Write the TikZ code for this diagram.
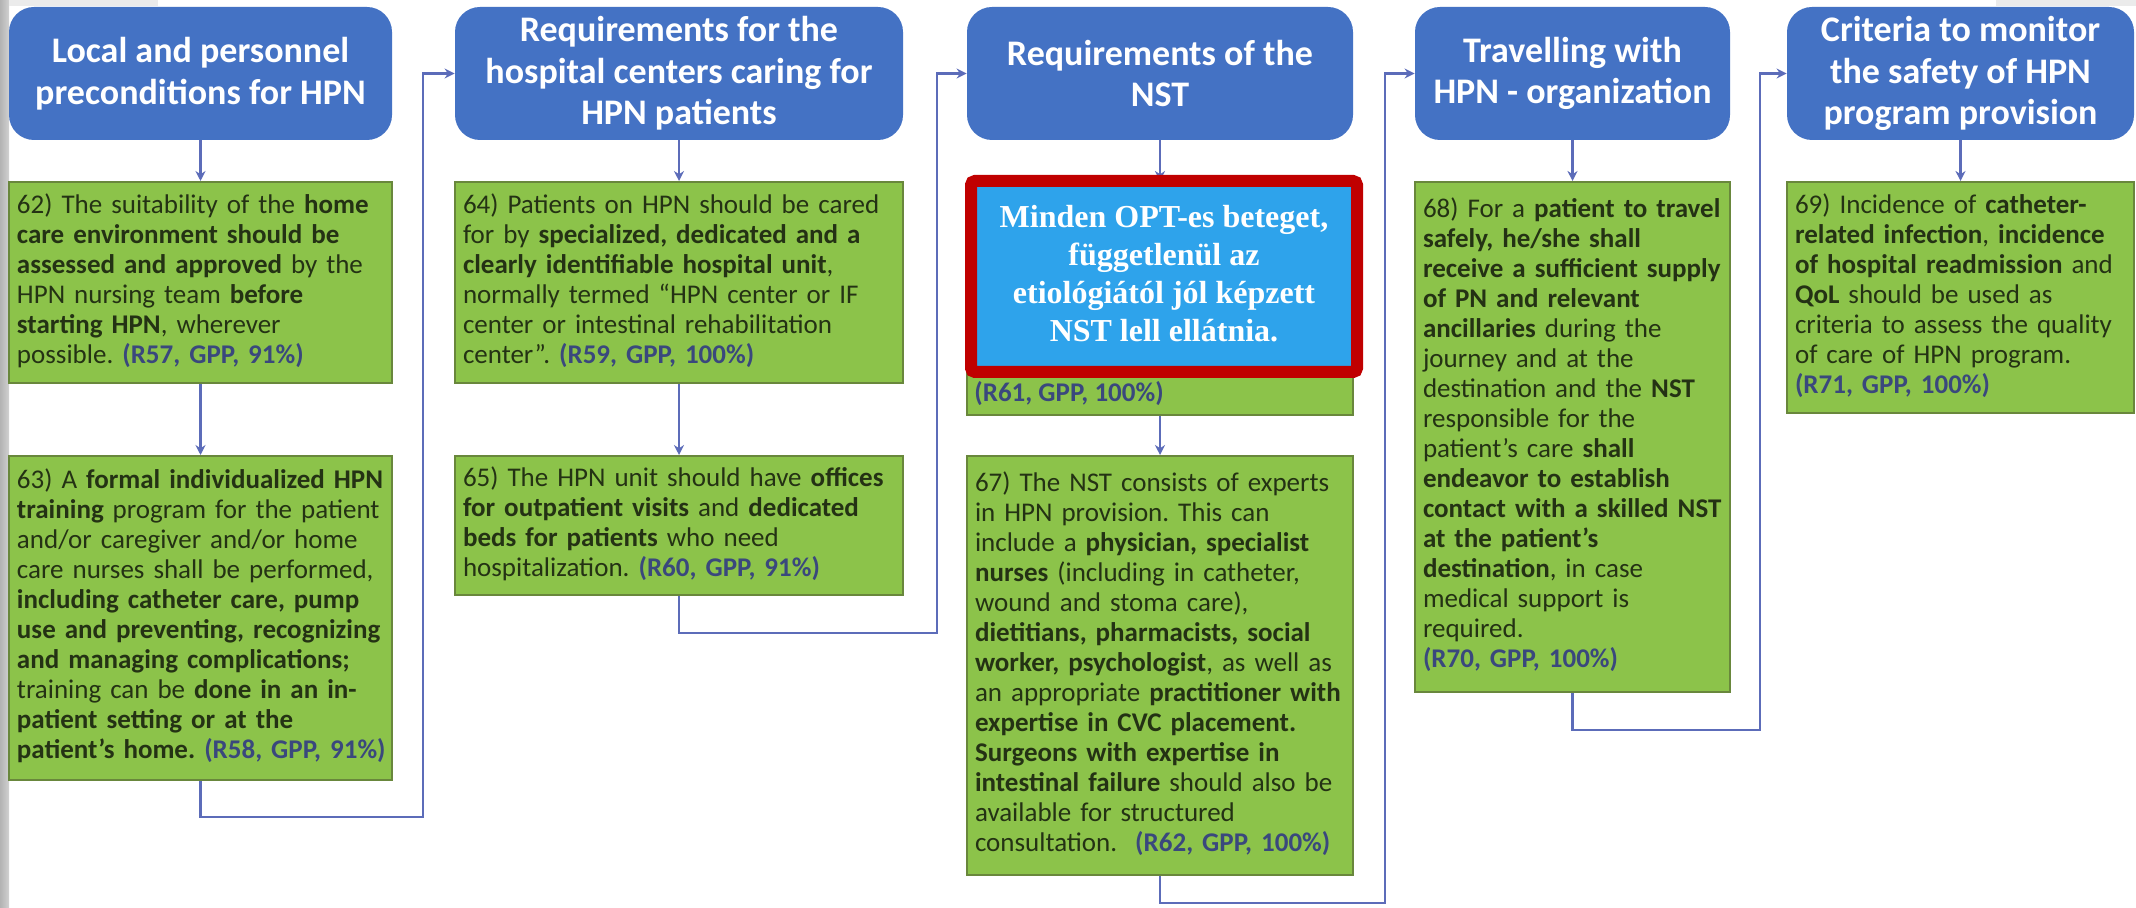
\documentclass[tikz,border=0pt]{standalone}
\usepackage{fontspec}
\setmainfont{Carlito}
\newfontfamily\timesfont{Liberation Serif}
\usetikzlibrary{arrows.meta}
\definecolor{hdrblue}{RGB}{68,114,196}
\definecolor{boxgreen}{RGB}{140,195,74}
\definecolor{boxedge}{RGB}{105,135,60}
\definecolor{txtdark}{RGB}{36,50,20}
\definecolor{refblue}{RGB}{58,72,125}
\definecolor{connblue}{RGB}{92,108,185}
\definecolor{alertred}{RGB}{192,0,0}
\definecolor{alertblue}{RGB}{46,163,235}
\newcommand\gl[1]{\begin{tabular}{@{}l@{}}#1\end{tabular}}
\newcommand\rf[1]{\textcolor{refblue}{\textbf{#1}}}
\frenchspacing
\begin{document}
\begin{tikzpicture}[x=0.5pt,y=-0.5pt,
 hdr/.style={fill=hdrblue, rounded corners=12.5pt, text=white, minimum height=66.5pt,
   font=\fontsize{18}{20.75}\selectfont\bfseries, align=center, inner sep=0pt},
 gbox/.style={draw=boxedge, line width=1pt, fill=boxgreen, text=txtdark,
   font=\fontsize{13.5}{15}\selectfont, align=left, inner xsep=4pt, inner ysep=0pt},
 conn/.style={draw=connblue, line width=1.4pt, -{Stealth[length=5pt,width=5pt]}},
 alert/.style={draw=alertred, line width=6pt, fill=alertblue, rounded corners=2pt,
   text=white, align=center, font=\timesfont\fontsize{16}{19}\selectfont\bfseries}]
\useasboundingbox (0,0) rectangle (2136,908);
\fill[white] (0,0) rectangle (2136,908);
\fill[left color=black!30, right color=black!18] (0,0) rectangle (9,908);
\fill[black!8] (9,0) rectangle (158,6);
\fill[black!8] (1996,0) rectangle (2136,6);

% headers
\node[hdr, minimum width=191.5pt] (h1) at (200.5,73.5) {Local and personnel\\preconditions for HPN};
\node[hdr, minimum width=224pt] (h2) at (679,73.5) {Requirements for the\\hospital centers caring for\\HPN patients};
\node[hdr, minimum width=193pt] (h3) at (1160,73.5) {Requirements of the\\NST};
\node[hdr, minimum width=157.5pt] (h4) at (1572.5,73.5) {Travelling with\\HPN - organization};
\node[hdr, minimum width=173.5pt] (h5) at (1960.5,73.5) {Criteria to monitor\\the safety of HPN\\program provision};

% green boxes
\node[gbox, minimum width=191.5pt, text width=183.5pt, minimum height=100.5pt] (b62) at (200.5,282.5) {\gl{62) The suitability of the \textbf{home}\\
\textbf{care environment should be}\\
\textbf{assessed and approved} by the\\
HPN nursing team \textbf{before}\\
\textbf{starting HPN}, wherever\\
possible. \rf{(R57, GPP, 91\%)}}};

\node[gbox, minimum width=191.5pt, text width=183.5pt, minimum height=162pt] (b63) at (200.5,618) {\gl{63) A \textbf{formal individualized HPN}\\
\textbf{training} program for the patient\\
and/or caregiver and/or home\\
care nurses shall be performed,\\
\textbf{including catheter care, pump}\\
\textbf{use and preventing, recognizing}\\
\textbf{and managing complications;}\\
training can be \textbf{done in an in-}\\
\textbf{patient setting or at the}\\
\textbf{patient’s home.} \rf{(R58, GPP, 91\%)}}};

\node[gbox, minimum width=224pt, text width=216pt, minimum height=100.5pt] (b64) at (679,282.5) {\gl{64) Patients on HPN should be cared\\
for by \textbf{specialized, dedicated and a}\\
\textbf{clearly identifiable hospital unit},\\
normally termed “HPN center or IF\\
center or intestinal rehabilitation\\
center”. \rf{(R59, GPP, 100\%)}}};

\node[gbox, minimum width=224pt, text width=216pt, minimum height=69.5pt] (b65) at (679,525.5) {\gl{65) The HPN unit should have \textbf{offices}\\
\textbf{for outpatient visits} and \textbf{dedicated}\\
\textbf{beds for patients} who need\\
hospitalization. \rf{(R60, GPP, 91\%)}}};

\node[gbox, minimum width=193pt, minimum height=116.5pt,
  label={[anchor=south west, inner xsep=4pt, inner ysep=5pt, font=\fontsize{13.5}{15}\selectfont]south west:\rf{(R61, GPP, 100\%)}}] (b66) at (1160,298.5) {};

\node[gbox, minimum width=193pt, text width=185pt, minimum height=209.5pt] (b67) at (1160,665.5) {\gl{67) The NST consists of experts\\
in HPN provision. This can\\
include a \textbf{physician, specialist}\\
\textbf{nurses} (including in catheter,\\
wound and stoma care),\\
\textbf{dietitians, pharmacists, social}\\
\textbf{worker, psychologist}, as well as\\
an appropriate \textbf{practitioner with}\\
\textbf{expertise in CVC placement.}\\
\textbf{Surgeons with expertise in}\\
\textbf{intestinal failure} should also be\\
available for structured\\
consultation.\ \ \rf{(R62, GPP, 100\%)}}};

\node[gbox, minimum width=157.5pt, text width=149.5pt, minimum height=255pt] (b68) at (1572.5,437) {\gl{68) For a \textbf{patient to travel}\\
\textbf{safely, he/she shall}\\
\textbf{receive a sufficient supply}\\
\textbf{of PN and relevant}\\
\textbf{ancillaries} during the\\
journey and at the\\
destination and the \textbf{NST}\\
responsible for the\\
patient’s care \textbf{shall}\\
\textbf{endeavor to establish}\\
\textbf{contact with a skilled NST}\\
\textbf{at the patient’s}\\
\textbf{destination}, in case\\
medical support is\\
required.\\
\rf{(R70, GPP, 100\%)}}};

\node[gbox, minimum width=173.5pt, text width=165.5pt, minimum height=115.5pt] (b69) at (1960.5,297.5) {\gl{69) Incidence of \textbf{catheter-}\\
\textbf{related infection}, \textbf{incidence}\\
\textbf{of hospital readmission} and\\
\textbf{QoL} should be used as\\
criteria to assess the quality\\
of care of HPN program.\\
\rf{(R71, GPP, 100\%)}}};

% bend points
\coordinate (k1) at (423,817);
\coordinate (k2) at (937,633);
\coordinate (k3) at (1385,903);
\coordinate (k4) at (1760,730);

% connectors
\draw[conn] (h1.south) -- (b62.north);
\draw[conn] (b62.south) -- (b63.north);
\draw[conn] (b63.south) |- (k1) |- (h2.west);
\draw[conn] (h2.south) -- (b64.north);
\draw[conn] (b64.south) -- (b65.north);
\draw[conn] (b65.south) |- (k2) |- (h3.west);
\draw[conn] (h3.south) -- (b66.north);
\draw[conn] (b66.south) -- (b67.north);
\draw[conn] (b67.south) |- (k3) |- (h4.west);
\draw[conn] (h4.south) -- (b68.north);
\draw[conn] (b68.south) |- (k4) |- (h5.west);
\draw[conn] (h5.south) -- (b69.north);

% overlay
\node[alert, minimum width=193pt, minimum height=95.5pt, text depth=3pt] (note) at (1164,276.5) {Minden OPT-es beteget,\\függetlenül az\\etiológiától jól képzett\\NST lell ellátnia.};
\end{tikzpicture}
\end{document}
